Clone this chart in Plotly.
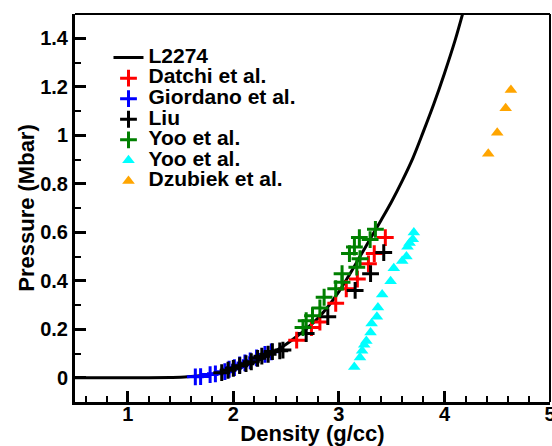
import plotly.graph_objects as go

# L2274 curve
dens_curve = [0.5, 1.2, 1.4, 1.5, 1.6, 1.7, 1.8, 1.9, 2.0, 2.1, 2.2, 2.3, 2.4, 2.5, 2.6, 2.7,
              2.8, 2.9, 3.0, 3.1, 3.2, 3.3, 3.4, 3.5, 3.6, 3.7, 3.8, 3.9, 4.0, 4.1, 4.2]
p_curve = [0.0, 0.0, 0.001, 0.002, 0.005, 0.009, 0.015, 0.023, 0.033, 0.047, 0.064, 0.085,
           0.11, 0.138, 0.17, 0.205, 0.245, 0.295, 0.355, 0.425, 0.50, 0.575, 0.65, 0.727,
           0.812, 0.905, 1.015, 1.13, 1.255, 1.39, 1.545]

datchi_x = [2.60, 2.74, 2.82, 2.97, 3.07, 3.175, 3.28, 3.335, 3.44]
datchi_y = [0.155, 0.207, 0.230, 0.307, 0.367, 0.407, 0.470, 0.512, 0.578]

giordano_x = [1.64, 1.69, 1.78, 1.83, 1.92, 1.96, 2.01, 2.06, 2.11, 2.16, 2.22, 2.30, 2.36]
giordano_y = [0.004, 0.005, 0.013, 0.016, 0.025, 0.035, 0.042, 0.053, 0.061, 0.070, 0.082, 0.096, 0.107]

liu_x = [1.89, 1.95, 2.00, 2.06, 2.12, 2.17, 2.23, 2.27, 2.33, 2.37, 2.44, 2.47,
         2.69, 2.895, 3.154, 3.30, 3.425]
liu_y = [0.021, 0.031, 0.039, 0.050, 0.058, 0.066, 0.080, 0.089, 0.097, 0.108, 0.111, 0.114,
         0.182, 0.252, 0.360, 0.429, 0.516]

yoo_x = [2.66, 2.69, 2.75, 2.82, 2.86, 2.97, 3.03, 3.03, 3.10, 3.17, 3.20, 3.147, 3.194, 3.296, 3.346]
yoo_y = [0.207, 0.235, 0.256, 0.288, 0.332, 0.367, 0.394, 0.429, 0.512, 0.456, 0.491, 0.539, 0.578, 0.570, 0.612]

yoo2_x = [3.146, 3.20, 3.22, 3.24, 3.26, 3.30, 3.31, 3.36, 3.37, 3.41, 3.49, 3.52, 3.60, 3.64,
          3.65, 3.67, 3.70, 3.71]
yoo2_y = [0.044, 0.083, 0.111, 0.136, 0.152, 0.187, 0.224, 0.252, 0.290, 0.343, 0.398, 0.452,
          0.481, 0.500, 0.540, 0.556, 0.571, 0.599]

dzubiek_x = [4.415, 4.50, 4.58, 4.63]
dzubiek_y = [0.924, 1.010, 1.111, 1.187]

x_ticks = [1, 2, 3, 4, 5]
y_ticks = [0, 0.2, 0.4, 0.6, 0.8, 1.0, 1.2, 1.4]
y_tick_labels = ["0", "0.2", "0.4", "0.6", "0.8", "1", "1.2", "1.4"]


def big(s):
    return "<span style='font-size:21px'>" + s + "</span>"


fig = go.Figure()
fig.add_trace(go.Scatter(x=dens_curve, y=p_curve, mode="lines", name=big("L2274"),
                         line=dict(color="black", width=3, shape="spline")))


def cross(x, y, name, color):
    fig.add_trace(go.Scatter(x=x, y=y, mode="markers", name=big(name),
                             marker=dict(symbol="cross-thin", size=12, color=color,
                                         line=dict(color=color, width=3))))


def tri(x, y, name, color):
    fig.add_trace(go.Scatter(x=x, y=y, mode="markers", name=big(name),
                             marker=dict(symbol="triangle-up", size=11, color=color,
                                         line=dict(width=0))))


cross(datchi_x, datchi_y, "Datchi et al.", "#ff0000")
cross(giordano_x, giordano_y, "Giordano et al.", "#0000ff")
cross(liu_x, liu_y, "Liu", "#000000")
cross(yoo_x, yoo_y, "Yoo et al.", "#008000")
tri(yoo2_x, yoo2_y, "Yoo et al.", "#00ffff")
tri(dzubiek_x, dzubiek_y, "Dzubiek et al.", "#ffa500")

font_family = "Liberation Sans, Arial, Helvetica, sans-serif"
fig.update_layout(
    width=552, height=446,
    margin=dict(l=75, r=2, t=14, b=44, autoexpand=False),
    paper_bgcolor="white", plot_bgcolor="white",
    font=dict(family=font_family, size=20, color="black", weight="bold"),
    showlegend=True,
    legend=dict(x=0.0705, y=0.927, xanchor="left", yanchor="top",
                bgcolor="rgba(0,0,0,0)", font=dict(size=13.5, weight="bold"),
                tracegroupgap=0, itemwidth=30),
    xaxis=dict(range=[0.5, 5], tickvals=x_ticks, ticks="inside", ticklen=11, tickwidth=2.5,
               tickcolor="black", showline=True, linewidth=3, linecolor="black",
               showgrid=False, zeroline=False, automargin=False, ticklabelstandoff=-8,
               ticklabeloverflow="allow",
               minor=dict(dtick=0.2, tick0=0, ticks="inside", ticklen=6, tickwidth=2,
                          tickcolor="black", showgrid=False),
               title=dict(text="Density (g/cc)", font=dict(size=22, weight="bold"), standoff=8),
               tickfont=dict(size=20, weight="bold")),
    yaxis=dict(range=[-0.1, 1.5], tickvals=y_ticks, ticktext=y_tick_labels, ticks="inside",
               ticklen=11, tickwidth=2.5, tickcolor="black", showline=True, linewidth=3,
               linecolor="black", showgrid=False, zeroline=False, automargin=False,
               minor=dict(dtick=0.1, tick0=0, ticks="inside", ticklen=6, tickwidth=2,
                          tickcolor="black", showgrid=False),
               title=dict(text="Pressure (Mbar)", font=dict(size=22, weight="bold"), standoff=0),
               tickfont=dict(size=20, weight="bold")),
    shapes=[dict(type="line", xref="paper", yref="paper", x0=0, x1=1, y0=1, y1=1,
                 line=dict(color="black", width=2)),
            dict(type="line", xref="paper", yref="paper", x0=1, x1=1, y0=0, y1=1,
                 line=dict(color="black", width=2))],
)

fig.write_html("out.html", post_script="document.body.style.margin='0';",
               config={"displayModeBar": False})
